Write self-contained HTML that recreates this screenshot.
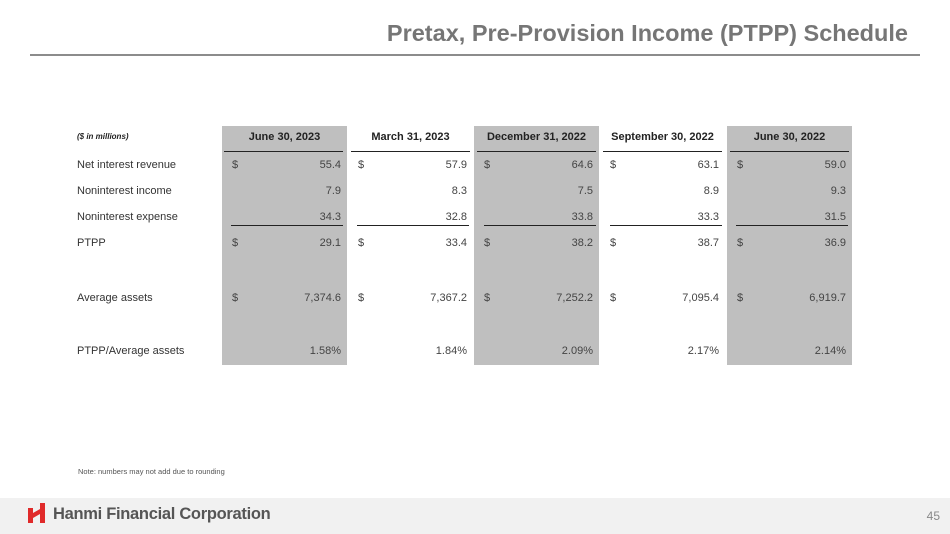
<!DOCTYPE html>
<html><head><meta charset="utf-8"><style>
body{margin:0;width:950px;height:534px;position:relative;background:#fff;font-family:"Liberation Sans",sans-serif;overflow:hidden}
.a{position:absolute;white-space:nowrap}
.sh{position:absolute;top:126px;height:239px;width:125px;background:#bfbfbf}
.hd{position:absolute;top:131px;width:125px;text-align:center;font-size:11px;font-weight:bold;color:#222}
.ul{position:absolute;height:1px;background:#222}
.lb{position:absolute;left:77px;font-size:11px;color:#333}
.d{position:absolute;font-size:11px;color:#444}
.v{position:absolute;font-size:11px;color:#444;text-align:right;width:60px}
</style></head><body>
<div class="a" style="right:42px;top:20px;font-size:23.5px;font-weight:bold;color:#767676">Pretax, Pre-Provision Income (PTPP) Schedule</div>
<div class="a" style="left:30px;top:54px;width:890px;height:2px;background:#8c8c8c"></div>

<div class="sh" style="left:222px"></div>
<div class="sh" style="left:474px"></div>
<div class="sh" style="left:727px"></div>

<div class="a" style="left:77px;top:132px;font-size:8px;font-weight:bold;font-style:italic;color:#222">($ in millions)</div>
<div class="hd" style="left:222px">June 30, 2023</div>
<div class="hd" style="left:348px">March 31, 2023</div>
<div class="hd" style="left:474px">December 31, 2022</div>
<div class="hd" style="left:600px">September 30, 2022</div>
<div class="hd" style="left:727px">June 30, 2022</div>

<div class="ul" style="left:224px;width:119px;top:151px"></div>
<div class="ul" style="left:351px;width:119px;top:151px"></div>
<div class="ul" style="left:477px;width:119px;top:151px"></div>
<div class="ul" style="left:603px;width:119px;top:151px"></div>
<div class="ul" style="left:730px;width:119px;top:151px"></div>
<div class="ul" style="left:231px;width:112px;top:225px"></div>
<div class="ul" style="left:357px;width:112px;top:225px"></div>
<div class="ul" style="left:484px;width:112px;top:225px"></div>
<div class="ul" style="left:610px;width:112px;top:225px"></div>
<div class="ul" style="left:736px;width:112px;top:225px"></div>

<div class="lb" style="top:159px">Net interest revenue</div>
<div class="lb" style="top:185px">Noninterest income</div>
<div class="lb" style="top:211px">Noninterest expense</div>
<div class="lb" style="top:237px">PTPP</div>
<div class="lb" style="top:292px">Average assets</div>
<div class="lb" style="top:345px">PTPP/Average assets</div>

<div id="cells"></div>
<script>
var xs=[222,348,474,600,727];
var rows=[[159,true,["55.4","57.9","64.6","63.1","59.0"]],[185,false,["7.9","8.3","7.5","8.9","9.3"]],[211,false,["34.3","32.8","33.8","33.3","31.5"]],[237,true,["29.1","33.4","38.2","38.7","36.9"]],[292,true,["7,374.6","7,367.2","7,252.2","7,095.4","6,919.7"]],[345,false,["1.58%","1.84%","2.09%","2.17%","2.14%"]]];
var h="";
rows.forEach(function(r){xs.forEach(function(x,i){
if(r[1])h+='<div class="d" style="left:'+(x+10)+'px;top:'+r[0]+'px">$</div>';
h+='<div class="v" style="left:'+(x+59)+'px;top:'+r[0]+'px">'+r[2][i]+'</div>';});});
document.getElementById("cells").innerHTML=h;
</script>

<div class="a" style="left:78px;top:467px;font-size:7.5px;color:#555">Note: numbers may not add due to rounding</div>
<div class="a" style="left:0;top:498px;width:950px;height:36px;background:#f1f1f1"></div>
<svg class="a" style="left:27px;top:502px" width="22" height="22" viewBox="0 0 22 22"><path d="M1 6h5v5l7-4V1h5v20h-5v-9l-7 4v5H1z" fill="#e02a2a"/></svg>
<div class="a" style="left:53px;top:505px;font-size:16.5px;font-weight:bold;color:#555;letter-spacing:-0.3px">Hanmi Financial Corporation</div>
<div class="a" style="right:10px;top:509px;font-size:12px;color:#888">45</div>
</body></html>
